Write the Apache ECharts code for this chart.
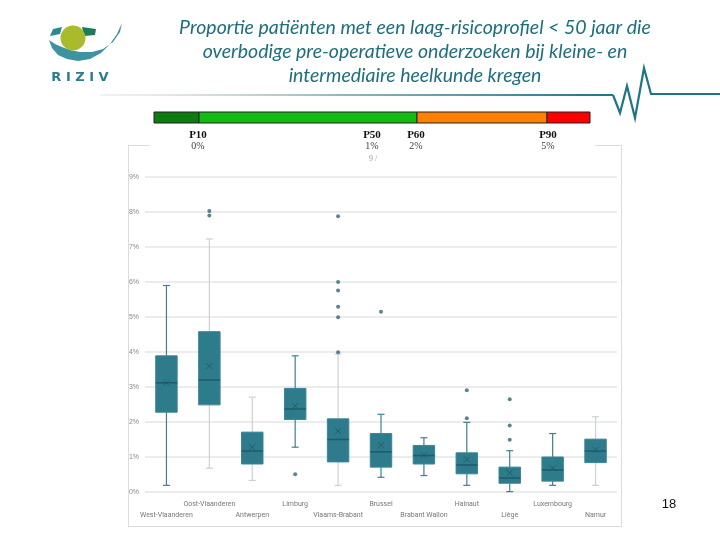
<!DOCTYPE html>
<html>
<head>
<meta charset="utf-8">
<script src="https://cdn.jsdelivr.net/npm/echarts@6/dist/echarts.min.js"></script>
<style>html,body{margin:0;padding:0;background:#fff}#c{width:720px;height:540px}</style>
</head>
<body>
<div id="c"></div>
<script>
// ---- data ----
const categories = ['West-Vlaanderen','Oost-Vlaanderen','Antwerpen','Limburg','Vlaams-Brabant','Brussel','Brabant Wallon','Hainaut','Liège','Luxembourg','Namur'];
const whiskerLow  = [0.19, 0.68, 0.33, 1.28, 0.19, 0.42, 0.47, 0.19, 0.01, 0.19, 0.19];
const q1Values    = [2.28, 2.49, 0.80, 2.07, 0.86, 0.71, 0.80, 0.52, 0.25, 0.31, 0.84];
const medianValues= [3.12, 3.20, 1.17, 2.37, 1.50, 1.15, 1.04, 0.77, 0.40, 0.63, 1.17];
const q3Values    = [3.89, 4.58, 1.71, 2.96, 2.09, 1.67, 1.33, 1.12, 0.71, 1.00, 1.51];
const whiskerHigh = [5.90, 7.23, 2.71, 3.89, 3.94, 2.22, 1.55, 1.99, 1.18, 1.67, 2.15];
const meanValues  = [3.12, 3.60, 1.28, 2.46, 1.74, 1.34, 1.05, 0.93, 0.55, 0.68, 1.20];
const outliers    = [[], [8.03, 7.90], [], [0.51], [7.88, 6.00, 5.76, 5.29, 4.99, 3.99], [5.15], [], [2.91, 2.11], [2.65, 1.90, 1.49], [], []];
const yTicks = [0,1,2,3,4,5,6,7,8,9];
const titleLines = ['Proportie patiënten met een laag-risicoprofiel < 50 jaar die','overbodige pre-operatieve onderzoeken bij kleine- en','intermediaire heelkunde kregen'];
const percentileNames = ['P10','P50','P60','P90'];
const percentileValues = ['0%','1%','2%','5%'];

// ---- styles ----
const lightWhisker = [false,true,true,false,true,false,false,false,false,false,true];
const BOX = '#2e7b8c', MED = '#1f5a68', DARKW = '#3f8090', LIGHTW = '#c9d2d6';

const boxData = categories.map((c,i)=>[i, whiskerLow[i], q1Values[i], medianValues[i], q3Values[i], whiskerHigh[i], meanValues[i]]);
const outlierData = [];
outliers.forEach((arr,i)=>arr.forEach(v=>outlierData.push([i,v])));

function renderBox(params, api){
  const i = api.value(0);
  const lo = api.coord([i, api.value(1)]);
  const q1 = api.coord([i, api.value(2)]);
  const md = api.coord([i, api.value(3)]);
  const q3 = api.coord([i, api.value(4)]);
  const hi = api.coord([i, api.value(5)]);
  const mn = api.coord([i, api.value(6)]);
  const band = api.size([1,0])[0];
  const bw = band*0.5, cap = 3.5, x = lo[0];
  const wc = lightWhisker[i] ? LIGHTW : DARKW;
  const ls = {stroke: wc, lineWidth: 1.2};
  const m = 3;
  return {type:'group', children:[
    {type:'line', shape:{x1:x,y1:hi[1],x2:x,y2:q3[1]}, style:ls},
    {type:'line', shape:{x1:x,y1:q1[1],x2:x,y2:lo[1]}, style:ls},
    {type:'line', shape:{x1:x-cap,y1:hi[1],x2:x+cap,y2:hi[1]}, style:ls},
    {type:'line', shape:{x1:x-cap,y1:lo[1],x2:x+cap,y2:lo[1]}, style:ls},
    {type:'rect', shape:{x:x-bw/2,y:q3[1],width:bw,height:q1[1]-q3[1]}, style:{fill:BOX, stroke:'#3a8697', lineWidth:1}},
    {type:'line', shape:{x1:x-bw/2,y1:md[1],x2:x+bw/2,y2:md[1]}, style:{stroke:MED,lineWidth:1.5}},
    {type:'line', shape:{x1:x-m,y1:mn[1]-m,x2:x+m,y2:mn[1]+m}, style:{stroke:MED,lineWidth:0.9}},
    {type:'line', shape:{x1:x-m,y1:mn[1]+m,x2:x+m,y2:mn[1]-m}, style:{stroke:MED,lineWidth:0.9}}
  ]};
}

const graphics = [];
// title
titleLines.forEach((t,k)=>graphics.push({type:'text', x:415, y:28+k*24, style:{text:t, font:'italic 19.5px Lato', fill:'#1d6f7b', textAlign:'center', textVerticalAlign:'middle'}}));
// logo
graphics.push({type:'polygon', shape:{points:[[49,40],[52,48],[58,55],[67,59],[78,61],[90,59],[101,53],[110,44],[117,34],[122,23],[120,32],[113,42],[103,49],[92,52],[80,52],[70,50],[62,47],[55,44]]}, style:{fill:'#3d93a0'}});
graphics.push({type:'polygon', shape:{points:[[50,36],[53,29],[62,27],[60,34]]}, style:{fill:'#2b8a8f'}});
graphics.push({type:'polygon', shape:{points:[[82,27],[96,29],[95,35],[84,36]]}, style:{fill:'#1e7a5c'}});
graphics.push({type:'circle', shape:{cx:73,cy:38,r:12.5}, style:{fill:'#a9bb2c'}});
graphics.push({type:'text', x:80, y:78, style:{text:'R I Z I V', font:'bold 13px "DejaVu Sans"', fill:'#2b7d8c', textAlign:'center', textVerticalAlign:'middle'}});
// heartbeat line
const hbPts = [[100,95],[613,95],[620,113],[627,86],[635,118],[644,68],[651,94],[720,94]];
graphics.push({type:'polyline', shape:{points:hbPts.slice(0,2)}, style:{lineWidth:2.2, stroke:new echarts.graphic.LinearGradient(0,0,1,0,[{offset:0,color:'rgba(210,215,220,0.3)'},{offset:0.5,color:'#8fb0b8'},{offset:1,color:'#1d7585'}])}});
graphics.push({type:'polyline', shape:{points:hbPts.slice(1)}, style:{fill:null, lineWidth:2.2, stroke:'#1d7585'}});
// colour bar
[[154,199,'#0e7a12'],[199,417,'#12bb12'],[417,547,'#ff8000'],[547,590,'#ff0000']].forEach(s=>graphics.push({type:'rect', shape:{x:s[0],y:112,width:s[1]-s[0],height:11}, style:{fill:s[2], stroke:'#222', lineWidth:1}}));
[198,372,416,548].forEach((cx,k)=>{
  graphics.push({type:'text', x:cx, y:135, style:{text:percentileNames[k], font:'bold 11px "Liberation Serif"', fill:'#111', textAlign:'center', textVerticalAlign:'middle'}});
  graphics.push({type:'text', x:cx, y:146.5, style:{text:percentileValues[k], font:'10px "Liberation Serif"', fill:'#444', textAlign:'center', textVerticalAlign:'middle'}});
});
graphics.push({type:'text', x:373, y:159, style:{text:'9 /', font:'8px "Liberation Serif"', fill:'#999', textAlign:'center', textVerticalAlign:'middle'}});
// frame
const fr = {stroke:'#dcdcdc', lineWidth:1};
[[128,145.5,150,145.5],[595,145.5,621,145.5],[128.5,145,128.5,527],[621.5,145,621.5,527],[128,526.5,621,526.5]].forEach(l=>graphics.push({type:'line', shape:{x1:l[0],y1:l[1],x2:l[2],y2:l[3]}, style:fr}));
// page number
graphics.push({type:'text', x:669, y:504, style:{text:'18', font:'13px "Liberation Sans"', fill:'#111', textAlign:'center', textVerticalAlign:'middle'}});

const chart = echarts.init(document.getElementById('c'), null, {renderer:'canvas'});
chart.setOption({
  animation:false,
  backgroundColor:'#fff',
  grid:{left:145, right:103, top:177, bottom:48},
  xAxis:{type:'category', data:categories, boundaryGap:true,
    axisLine:{show:false}, axisTick:{show:false},
    axisLabel:{interval:0, margin:7, fontSize:7, lineHeight:11, color:'#777', fontFamily:'"Liberation Sans Narrow", Roboto',
      formatter:(v,idx)=> idx%2===0 ? '\n'+v : v}},
  yAxis:{type:'value', min:yTicks[0], max:yTicks[yTicks.length-1], interval:1,
    axisLine:{show:false}, axisTick:{show:false},
    axisLabel:{fontSize:7, color:'#888', margin:6, formatter:v=>v+'%'},
    splitLine:{lineStyle:{color:'#e6e6e6', width:1.5}}},
  graphic:graphics,
  series:[
    {type:'custom', renderItem:renderBox, data:boxData, encode:{x:0, y:[1,2,3,4,5]}, z:3},
    {type:'scatter', data:outlierData, symbolSize:4, itemStyle:{color:'#2d6777'}, z:4}
  ]
});
</script>
</body>
</html>
